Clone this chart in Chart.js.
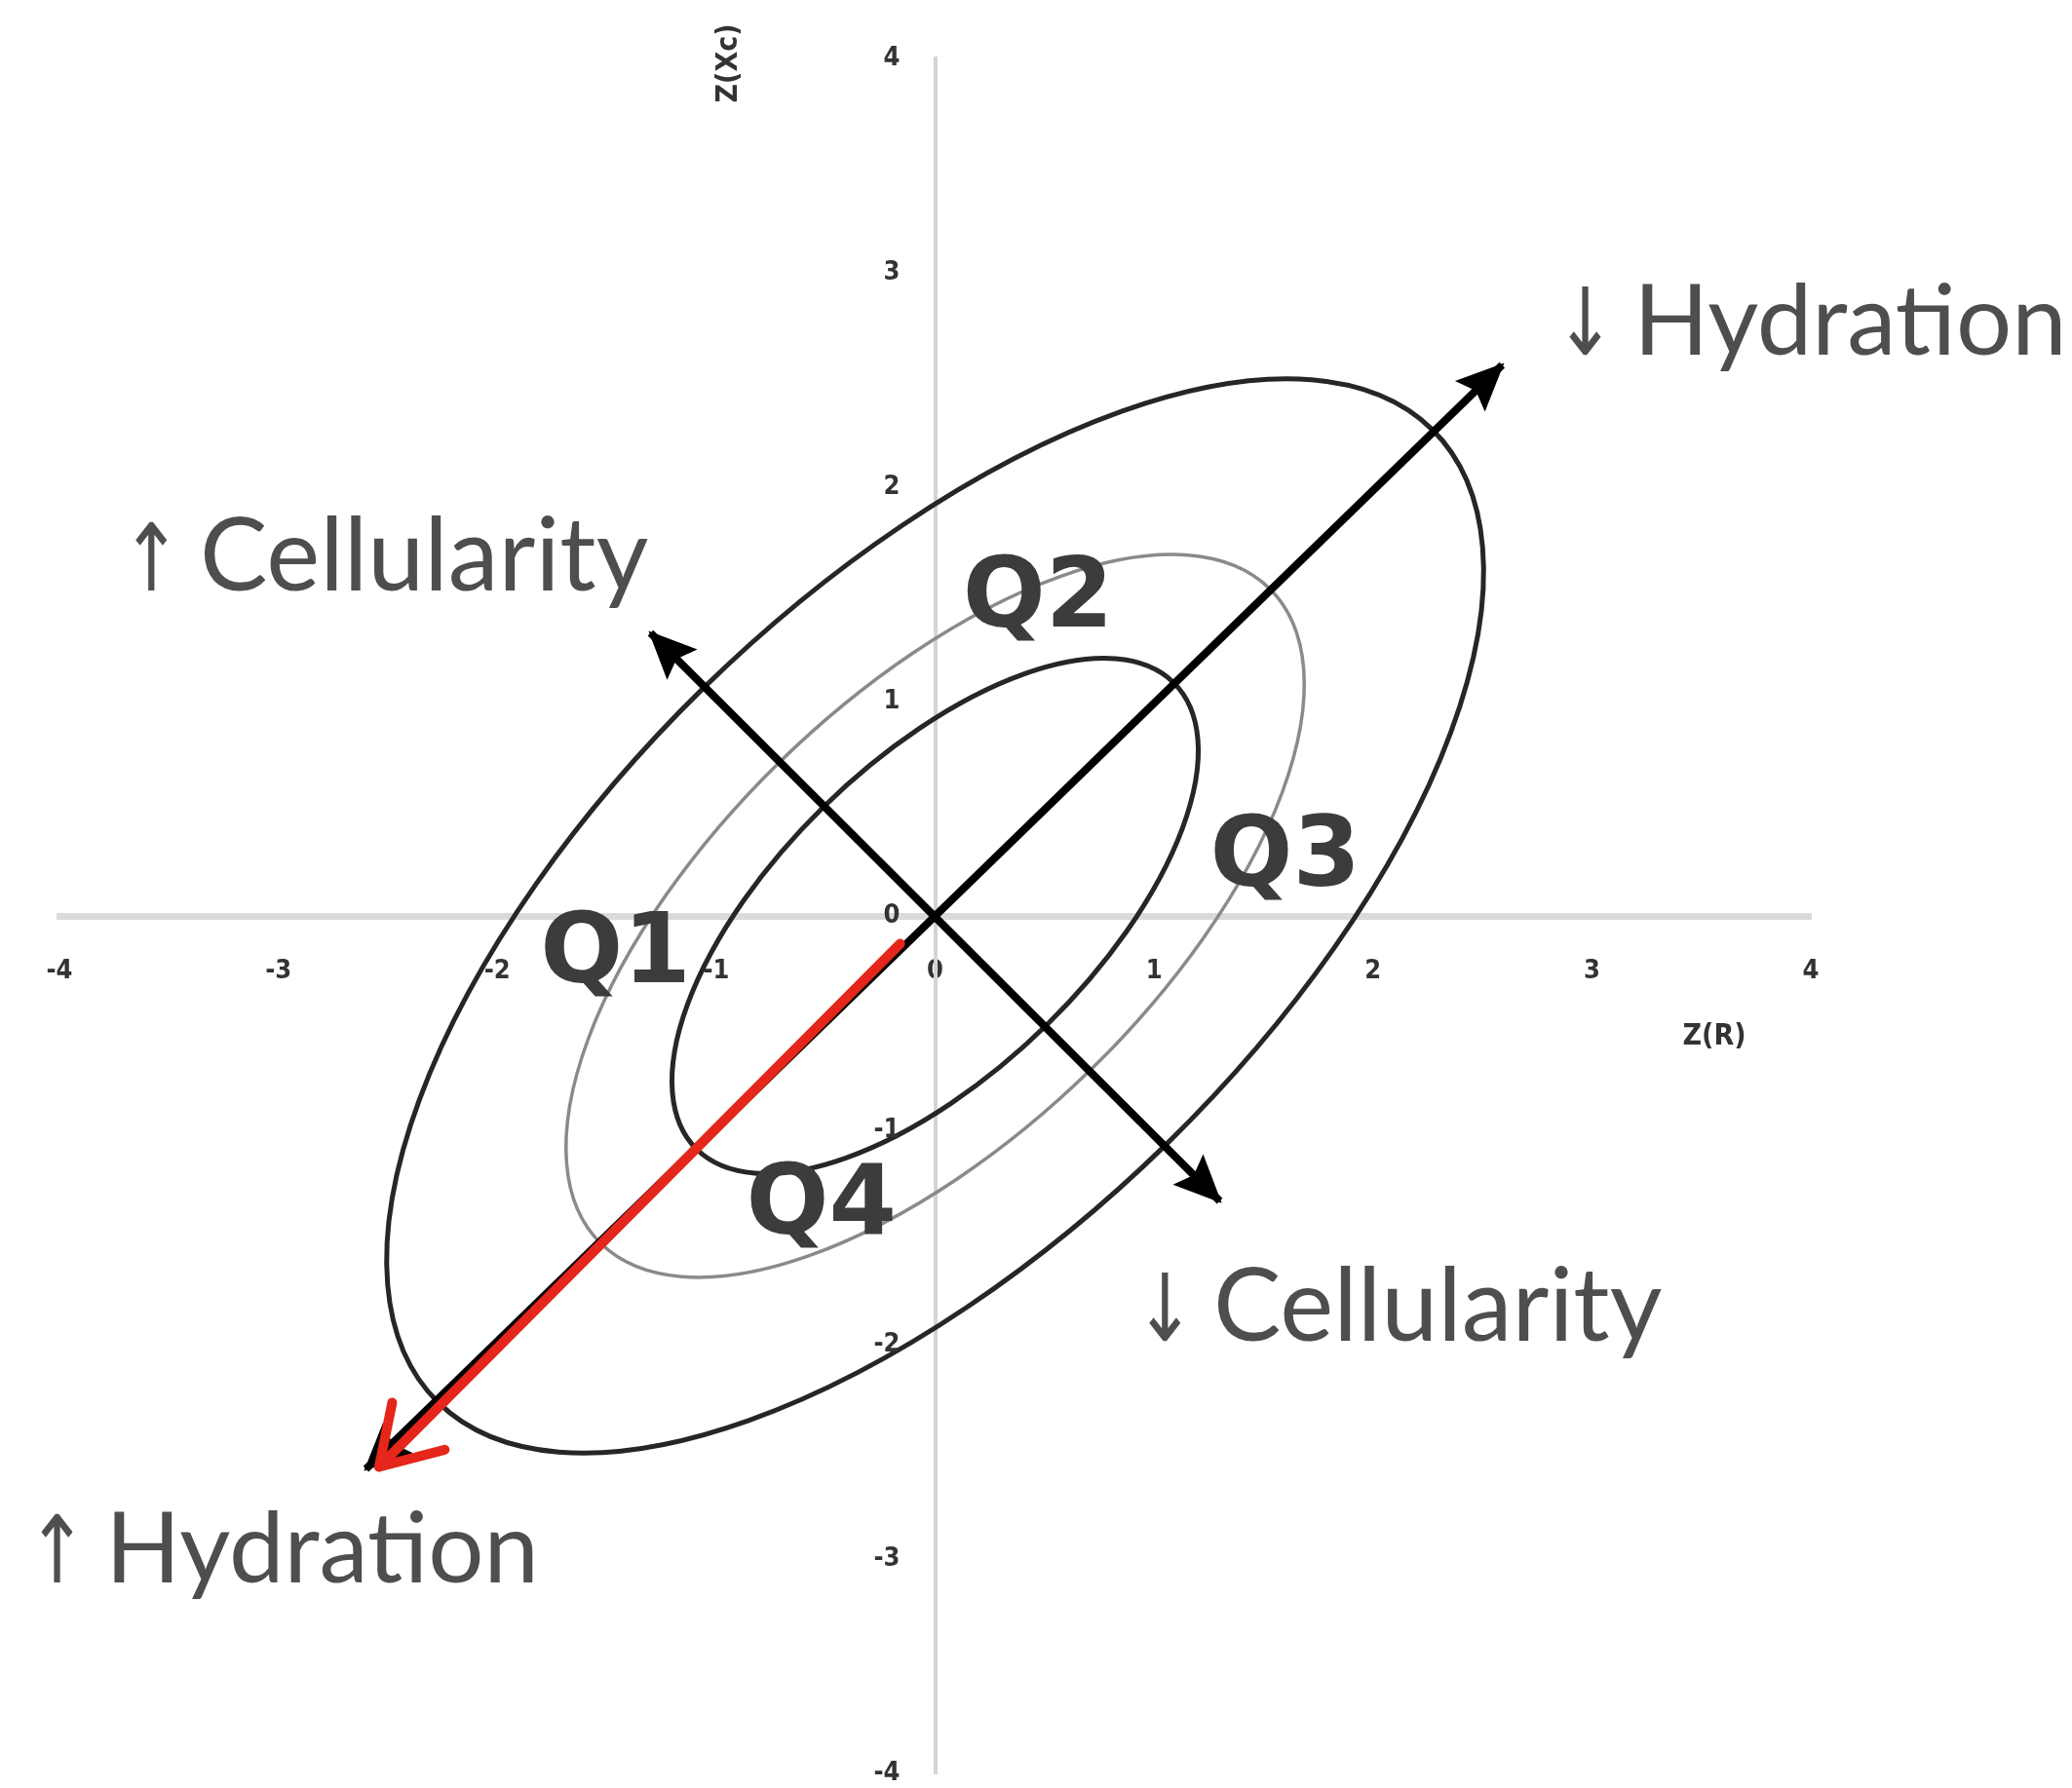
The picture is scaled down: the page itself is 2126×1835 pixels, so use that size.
<!DOCTYPE html>
<html>
<head>
<meta charset="utf-8">
<title>BIVA tolerance ellipses</title>
<script src="https://cdn.jsdelivr.net/npm/chart.js@4.4.1/dist/chart.umd.min.js"></script>
<style>
  html, body { margin: 0; padding: 0; background: #fff; }
  #wrap { width: 2126px; height: 1835px; }
</style>
</head>
<body>
<div id="wrap"><canvas id="biva" width="2126" height="1835"></canvas></div>
<script>
// z-score axes
const axisMin = -4;
const axisMax = 4;
const axisStep = 1;

// 50 %, 75 % and 95 % tolerance ellipses: semi-axes in z units, tilt of the major axis
const ellipseMajor = [1.54, 2.16, 3.21];
const ellipseMinor = [0.72, 1.01, 1.50];
const ellipseTilt = 45;

// vector directions, end points in z units
const hydrationX = [-2.60, 2.59];
const hydrationY = [-2.58, 2.57];
const cellularityX = [-1.30, 1.30];
const cellularityY = [1.32, -1.33];

// red marker arrow: shaft and open head
const redShaftX = [-0.16, -2.54];
const redShaftY = [-0.13, -2.57];
const redHeadX = [-2.48, -2.54, -2.24];
const redHeadY = [-2.27, -2.57, -2.49];

// quadrant labels (centres)
const quadrantNames = ["Q1", "Q2", "Q3", "Q4"];
const quadrantX = [-1.46, 0.47, 1.60, -0.52];
const quadrantY = [-0.17, 1.49, 0.28, -1.34];

// direction labels (left edge / baseline)
const directionNames = ["\u2191 Cellularity", "\u2193 Hydration", "\u2193 Cellularity", "\u2191 Hydration"];
const directionX = [-3.72, 2.83, 0.91, -4.15];
const directionY = [1.52, 2.62, -1.98, -3.11];

const toPoints = (xs, ys) => xs.map((x, i) => ({ x, y: ys[i] }));

const tickFamily = "'Liberation Sans Narrow', 'DejaVu Sans Condensed', sans-serif";
const tickFont = { family: tickFamily, size: 27, weight: "bold" };
const tickColor = "#333";

/**
 * Filled arrow head with its tip at `tip`, pointing away from `from`
 */
function drawHead(ctx, tip, from) {
  const dx = tip.x - from.x;
  const dy = tip.y - from.y;
  const d = Math.hypot(dx, dy) || 1;
  const ux = dx / d, uy = dy / d;
  const len = 46, half = 22;
  const bx = tip.x - ux * len;
  const by = tip.y - uy * len;
  ctx.beginPath();
  ctx.moveTo(tip.x + ux * 3, tip.y + uy * 3);
  ctx.lineTo(bx - uy * half, by + ux * half);
  ctx.lineTo(tip.x - ux * len * 0.82, tip.y - uy * len * 0.82);
  ctx.lineTo(bx + uy * half, by - ux * half);
  ctx.closePath();
  ctx.fill();
}

const bivaOverlay = {
  id: "bivaOverlay",

  // tolerance ellipses sit under the vectors
  beforeDatasetsDraw(chart) {
    const { ctx, scales: { x: xs, y: ys } } = chart;
    const cx = xs.getPixelForValue(0);
    const cy = ys.getPixelForValue(0);
    const t = ellipseTilt * Math.PI / 180;
    const colors = ["#262626", "#8a8a8a", "#262626"];
    const widths = [5, 3.5, 5];

    ellipseMajor.forEach((a, i) => {
      const b = ellipseMinor[i];
      const ux = xs.getPixelForValue(a * Math.cos(t)) - cx;
      const uy = ys.getPixelForValue(a * Math.sin(t)) - cy;
      const vx = xs.getPixelForValue(-b * Math.sin(t)) - cx;
      const vy = ys.getPixelForValue(b * Math.cos(t)) - cy;
      ctx.save();
      ctx.beginPath();
      ctx.save();
      ctx.transform(ux, uy, vx, vy, cx, cy);
      ctx.arc(0, 0, 1, 0, Math.PI * 2);
      ctx.restore();
      ctx.lineWidth = widths[i];
      ctx.strokeStyle = colors[i];
      ctx.stroke();
      ctx.restore();
    });
  },

  // arrow heads for the black vectors
  afterDatasetDraw(chart, args) {
    const ds = chart.data.datasets[args.index];
    if (!ds.arrowHeads) return;
    const pts = args.meta.data;
    const ctx = chart.ctx;
    ctx.save();
    ctx.fillStyle = ds.borderColor;
    drawHead(ctx, pts[pts.length - 1], pts[pts.length - 2]);
    if (ds.arrowHeads === 2) drawHead(ctx, pts[0], pts[1]);
    ctx.restore();
  },

  afterDraw(chart) {
    const { ctx, scales: { x: xs, y: ys } } = chart;
    const x0 = xs.getPixelForValue(0);
    const y0 = ys.getPixelForValue(0);
    ctx.save();

    // y tick labels sit a little left of the vertical axis
    ctx.fillStyle = tickColor;
    ctx.font = `bold ${tickFont.size}px ${tickFamily}`;
    ctx.textAlign = "right";
    ctx.textBaseline = "middle";
    ys.ticks.forEach((tick) => {
      ctx.fillText(String(tick.value), x0 - 36, ys.getPixelForValue(tick.value));
    });

    // axis titles
    ctx.font = `bold 30px ${tickFamily}`;
    ctx.textAlign = "center";
    ctx.fillText("Z(R)", xs.right - 99, y0 + 124);
    ctx.save();
    ctx.translate(x0 - 211, ys.top + 5);
    ctx.rotate(-Math.PI / 2);
    ctx.fillText("Z(Xc)", 0, 0);
    ctx.restore();

    // quadrant names
    ctx.fillStyle = "#3c3c3c";
    ctx.font = "bold 100px 'DejaVu Sans', sans-serif";
    ctx.textAlign = "center";
    ctx.textBaseline = "middle";
    quadrantNames.forEach((q, i) => {
      ctx.fillText(q, xs.getPixelForValue(quadrantX[i]), ys.getPixelForValue(quadrantY[i]) + 5);
    });

    // direction labels: narrow arrow glyph, then the word
    ctx.fillStyle = "#4e4e4e";
    ctx.textAlign = "left";
    ctx.textBaseline = "alphabetic";
    directionNames.forEach((txt, i) => {
      const px = xs.getPixelForValue(directionX[i]);
      const py = ys.getPixelForValue(directionY[i]);
      const [arrow, ...rest] = txt.split(" ");
      const word = rest.join(" ");
      ctx.save();
      ctx.translate(px, py);
      ctx.scale(0.78, 1);
      ctx.font = "96px 'DejaVu Sans', sans-serif";
      ctx.fillText(arrow, 0, 0);
      ctx.restore();
      ctx.font = word === "Cellularity" ? "104px Lato, 'Open Sans', sans-serif" : "101px Lato, 'Open Sans', sans-serif";
      ctx.fillText(word, px + 81, py);
    });

    ctx.restore();
  },
};

const lineBase = {
  showLine: true,
  pointRadius: 0,
  pointHoverRadius: 0,
  fill: false,
  tension: 0,
};

new Chart(document.getElementById("biva"), {
  type: "scatter",
  data: {
    datasets: [
      { ...lineBase, label: "Hydration", data: toPoints(hydrationX, hydrationY),
        borderColor: "#000", borderWidth: 8, borderCapStyle: "butt", arrowHeads: 2, order: 2 },
      { ...lineBase, label: "Cellularity", data: toPoints(cellularityX, cellularityY),
        borderColor: "#000", borderWidth: 8, borderCapStyle: "butt", arrowHeads: 2, order: 2 },
      { ...lineBase, label: "Shift", data: toPoints(redShaftX, redShaftY),
        borderColor: "#e5261a", borderWidth: 10, borderCapStyle: "round", order: 1 },
      { ...lineBase, label: "Shift head", data: toPoints(redHeadX, redHeadY),
        borderColor: "#e5261a", borderWidth: 10, borderCapStyle: "round", borderJoinStyle: "round", order: 1 },
    ],
  },
  options: {
    responsive: false,
    devicePixelRatio: 1,
    animation: false,
    events: [],
    layout: { padding: { left: 61, right: 268, top: 60, bottom: 15 } },
    plugins: {
      legend: { display: false },
      tooltip: { enabled: false },
    },
    scales: {
      x: {
        type: "linear",
        min: axisMin,
        max: axisMax,
        position: { y: 0 },
        grid: { display: false, drawTicks: false },
        border: { display: true, color: "#dadada", width: 7 },
        ticks: { stepSize: axisStep, padding: 41, font: tickFont, color: tickColor },
      },
      y: {
        type: "linear",
        min: axisMin,
        max: axisMax,
        position: { x: 0 },
        grid: { display: false, drawTicks: false },
        border: { display: true, color: "#d4d4d4", width: 4 },
        ticks: { stepSize: axisStep, padding: 0, display: false },
      },
    },
  },
  plugins: [bivaOverlay],
});
</script>
</body>
</html>
